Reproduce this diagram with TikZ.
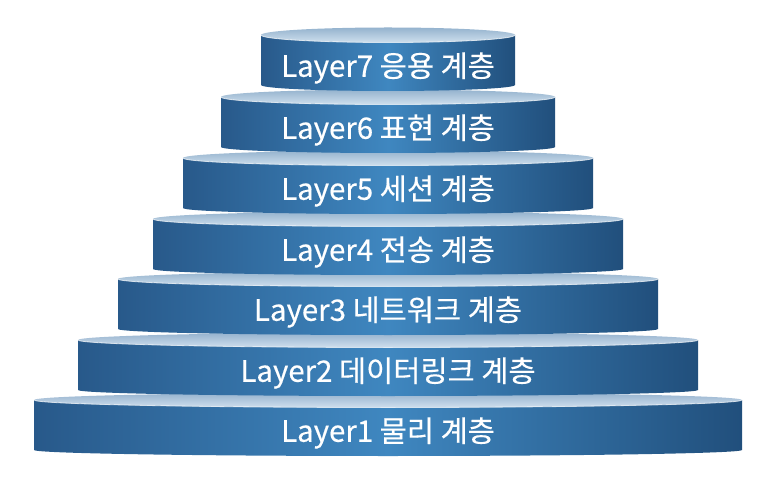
\documentclass[tikz,border=0pt]{standalone}
\usepackage{fontspec}
\setmainfont{Noto Sans CJK KR}[FakeBold=0.4]
\definecolor{sideL}{HTML}{28598A}
\definecolor{sideM}{HTML}{3F87C0}
\definecolor{sideR}{HTML}{214F7C}
\definecolor{topA}{HTML}{94B2CE}
\definecolor{topB}{HTML}{CFDFED}
\tikzset{
  sideface/.style={left color=sideL, right color=sideR, middle color=sideM},
  topface/.style={top color=topA, bottom color=topB},
  rim/.style={draw=white, draw opacity=0.7, line width=0.8pt},
  layertext/.style={text=white, font=\fontsize{29.5}{34}\selectfont, inner sep=0pt}
}
\begin{document}
\begin{tikzpicture}[x=1pt,y=1pt]
\useasboundingbox (0,0) rectangle (784,-478);
\foreach \n/\hw/\yc/\txt in {
  1/354/400/{Layer1 물리 계층},
  2/310/340/{Layer2 데이터링크 계층},
  3/270/279/{Layer3 네트워크 계층},
  4/235/219/{Layer4 전송 계층},
  5/205/158/{Layer5 세션 계층},
  6/167/97/{Layer6 표현 계층},
  7/127/35/{Layer7 응용 계층}} {
  \path[sideface] (388-\hw,-\yc) -- (388-\hw,-\yc-50)
     arc[start angle=180,end angle=360,x radius=\hw pt,y radius=6pt]
     -- (388+\hw,-\yc) -- cycle;
  \path[topface] (388,-\yc) ellipse[x radius=\hw pt, y radius=7.5pt];
  \path[rim] (388-\hw,-\yc) arc[start angle=180,end angle=360,x radius=\hw pt,y radius=7.5pt];
  \node[layertext] (L\n) at (388,-\yc-33) {\txt};
}
\end{tikzpicture}
\end{document}
